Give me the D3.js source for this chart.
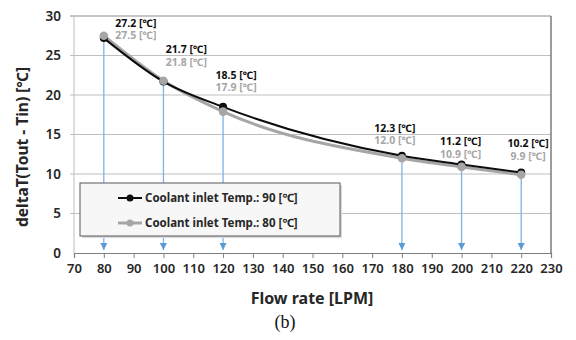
<!DOCTYPE html>
<html>
<head>
<meta charset="utf-8">
<script src="https://cdn.jsdelivr.net/npm/d3@7"></script>
<style>
  body { margin: 0; background: #fff; }
  text { font-family: "Noto Sans", "Open Sans", sans-serif; }
</style>
</head>
<body>
<div id="chart"></div>
<script>
// Daten
const flowRates = [80, 100, 120, 180, 200, 220];
const temp90 = [27.2, 21.7, 18.5, 12.3, 11.2, 10.2];
const temp80 = [27.5, 21.8, 17.9, 12.0, 10.9, 9.9];
const seriesNames = ["Coolant inlet Temp.: 90 [℃]", "Coolant inlet Temp.: 80 [℃]"];
const xTicks = d3.range(70, 231, 10);
const yTicks = [0, 5, 10, 15, 20, 25, 30];

// Label-Versatz (Pixel) relativ zum Punkt
const labelDx = [32, 23, 13, -7, -1, 7];
const labelDy90 = [-15, -32, -32, -28, -23, -29];

const width = 576, height = 340;
const svg = d3.select("#chart").append("svg")
  .attr("width", width)
  .attr("height", height);

const x = d3.scaleLinear().domain([70, 230]).range([74, 551]);
const y = d3.scaleLinear().domain([0, 30]).range([253, 16]);

// Gitterlinien
svg.append("g")
  .selectAll("line")
  .data(yTicks.filter(d => d > 0))
  .enter()
  .append("line")
  .attr("x1", x(70) - 4)
  .attr("x2", x(230))
  .attr("y1", d => y(d))
  .attr("y2", d => y(d))
  .attr("stroke", d => d === 30 ? "#8c8c8c" : "#bfbfbf")
  .attr("stroke-width", 1);

// Rechter Rand
svg.append("line")
  .attr("x1", x(230)).attr("x2", x(230))
  .attr("y1", y(30)).attr("y2", y(0))
  .attr("stroke", "#595959").attr("stroke-width", 1.2);

// Y-Achse
svg.append("line")
  .attr("x1", x(70)).attr("x2", x(70))
  .attr("y1", y(30)).attr("y2", y(0))
  .attr("stroke", "#bfbfbf");

// Blaue Pfeile
svg.append("defs").append("marker")
  .attr("id", "arrow")
  .attr("viewBox", "0 0 10 10")
  .attr("refX", 10).attr("refY", 5)
  .attr("markerWidth", 7).attr("markerHeight", 7)
  .attr("markerUnits", "userSpaceOnUse")
  .attr("orient", "auto")
  .append("path")
  .attr("d", "M0,0 L10,5 L0,10 z")
  .attr("fill", "#5b9bd5");

svg.append("g")
  .selectAll("line")
  .data(flowRates)
  .enter()
  .append("line")
  .attr("x1", d => x(d)).attr("x2", d => x(d))
  .attr("y1", (d, i) => y(Math.max(temp90[i], temp80[i])))
  .attr("y2", y(0) - 3)
  .attr("stroke", "#7fb2e5")
  .attr("stroke-width", 1.3)
  .attr("marker-end", "url(#arrow)");

// X-Achse
const xAxis = svg.append("g")
  .attr("transform", `translate(0,${y(0)})`)
  .call(d3.axisBottom(x).tickValues(xTicks).tickSize(5).tickPadding(6).tickFormat(d3.format("d")));
xAxis.select(".domain").attr("stroke", "#7f7f7f").attr("stroke-width", 1.2);
xAxis.selectAll(".tick line").attr("stroke", "#7f7f7f");
xAxis.selectAll("text")
  .style("font-size", "13px")
  .style("font-weight", "600")
  .attr("fill", "#262626");

// Y-Achse Beschriftung
svg.append("g")
  .selectAll("text")
  .data(yTicks)
  .enter()
  .append("text")
  .attr("x", 61)
  .attr("y", d => y(d))
  .attr("dy", "0.35em")
  .attr("text-anchor", "end")
  .style("font-size", "13.5px")
  .style("font-weight", "600")
  .attr("fill", "#262626")
  .text(d => d);

// Linien
const line = d3.line()
  .x((d, i) => x(flowRates[i]))
  .y(d => y(d))
  .curve(d3.curveMonotoneX);

svg.append("path")
  .attr("d", line(temp80))
  .attr("fill", "none")
  .attr("stroke", "#a6a6a6")
  .attr("stroke-width", 3);

svg.append("path")
  .attr("d", line(temp90))
  .attr("fill", "none")
  .attr("stroke", "#0d0d0d")
  .attr("stroke-width", 2);

// Markierungen
svg.append("g")
  .selectAll("circle")
  .data(temp90)
  .enter()
  .append("circle")
  .attr("cx", (d, i) => x(flowRates[i]))
  .attr("cy", d => y(d))
  .attr("r", 4)
  .attr("fill", "#0d0d0d");

svg.append("g")
  .selectAll("circle")
  .data(temp80)
  .enter()
  .append("circle")
  .attr("cx", (d, i) => x(flowRates[i]))
  .attr("cy", d => y(d))
  .attr("r", 4.3)
  .attr("fill", "#a6a6a6");

// Datenbeschriftung
flowRates.forEach((f, i) => {
  const cx = x(f) + labelDx[i];
  const cy = y(temp90[i]) + labelDy90[i];
  svg.append("text")
    .attr("x", cx).attr("y", cy)
    .attr("dy", "0.35em")
    .attr("text-anchor", "middle")
    .style("font-size", "10.5px")
    .style("font-weight", "700")
    .attr("fill", "#0d0d0d")
    .text(`${temp90[i].toFixed(1)} [℃]`);
  svg.append("text")
    .attr("x", cx).attr("y", cy + 12.5)
    .attr("dy", "0.35em")
    .attr("text-anchor", "middle")
    .style("font-size", "10.5px")
    .style("font-weight", "700")
    .attr("fill", "#a6a6a6")
    .text(`${temp80[i].toFixed(1)} [℃]`);
});

// Legende
const legend = svg.append("g").attr("transform", "translate(80,183)");
legend.append("rect")
  .attr("x", 2).attr("y", 2)
  .attr("width", 260).attr("height", 53)
  .attr("fill", "#d9d9d9");
legend.append("rect")
  .attr("width", 260).attr("height", 53)
  .attr("fill", "#f7f7f7")
  .attr("stroke", "#595959")
  .attr("stroke-width", 1);

const legendColors = ["#0d0d0d", "#a6a6a6"];
seriesNames.forEach((name, i) => {
  const row = legend.append("g").attr("transform", `translate(0,${15 + i * 25})`);
  row.append("line")
    .attr("x1", 38).attr("x2", 62)
    .attr("stroke", legendColors[i])
    .attr("stroke-width", i === 0 ? 2 : 3);
  row.append("circle")
    .attr("cx", 50).attr("r", 3.5)
    .attr("fill", legendColors[i]);
  row.append("text")
    .attr("x", 65)
    .attr("dy", "0.35em")
    .style("font-size", "11.5px")
    .style("font-weight", "700")
    .attr("fill", "#262626")
    .text(name);
});

// Achsentitel
svg.append("text")
  .attr("x", 312)
  .attr("y", 298)
  .attr("dy", "0.35em")
  .attr("text-anchor", "middle")
  .style("font-size", "16px")
  .style("font-weight", "700")
  .attr("fill", "#262626")
  .text("Flow rate [LPM]");

svg.append("text")
  .attr("transform", "translate(23,147) rotate(-90)")
  .attr("dy", "0.35em")
  .attr("text-anchor", "middle")
  .style("font-size", "15.5px")
  .style("font-weight", "700")
  .attr("fill", "#262626")
  .text("deltaT(Tout - Tin) [℃]");

svg.append("text")
  .attr("x", 285)
  .attr("y", 322)
  .attr("dy", "0.35em")
  .attr("text-anchor", "middle")
  .style("font-family", "'Liberation Serif', 'DejaVu Serif', serif")
  .style("font-size", "18px")
  .attr("fill", "#111")
  .text("(b)");
</script>
</body>
</html>
